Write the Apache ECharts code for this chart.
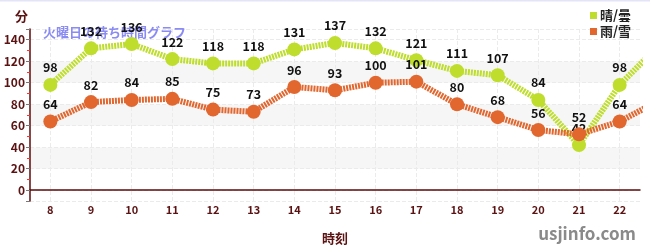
<!DOCTYPE html>
<html>
<head>
<meta charset="utf-8">
<script src="https://cdn.jsdelivr.net/npm/echarts@6/dist/echarts.min.js"></script>
<style>
html,body{margin:0;padding:0;background:#fff;}
#c{width:650px;height:250px;}
</style>
</head>
<body>
<div id="c"></div>
<script>
const hours = ['8','9','10','11','12','13','14','15','16','17','18','19','20','21','22','23'];
const sunny = [98,132,136,122,118,118,131,137,132,121,111,107,84,42,98,136];
const rainy = [64,82,84,85,75,73,96,93,100,101,80,68,56,52,64,84];
const seriesNames = ['晴/曇','雨/雪'];
const yTickLabels = [0,20,40,60,80,100,120,140];

const FONT = '"Noto Sans CJK JP", "Noto Sans", sans-serif';
const MAROON = '#5a1212';
const chart = echarts.init(document.getElementById('c'), null, {renderer:'canvas'});
chart.setOption({
  animation:false,
  textStyle:{fontFamily:FONT},
  title:{
    text:'火曜日の待ち時間グラフ', left:38, top:21, z:1,
    textStyle:{color:'#8b8cf3', fontSize:13, fontWeight:'bold', fontFamily:FONT}
  },
  legend:{
    data:seriesNames, orient:'vertical', right:14, top:4,
    itemWidth:7, itemHeight:7, itemGap:3, icon:'rect',
    textStyle:{fontSize:13, fontWeight:'bold', color:'#222', fontFamily:FONT, padding:[0,0,0,-2]}
  },
  graphic:[
    {type:'rect', shape:{x:0,y:0,width:650,height:1.5}, style:{fill:'#e4e4f8'}, z:100},
    {type:'text', right:14, bottom:8, style:{text:'usjinfo.com', fill:'#8a8a8a', font:'bold 17px '+FONT}, z:100}
  ],
  grid:{left:30, right:10, top:29, bottom:49, containLabel:false},
  xAxis:{
    type:'category', data:hours, max:14, boundaryGap:true,
    name:'時刻', nameLocation:'middle', nameGap:31,
    nameTextStyle:{color:MAROON, fontSize:13, fontWeight:'bold', fontFamily:FONT},
    axisLine:{lineStyle:{color:'#5c0a0a', width:1.5}},
    axisTick:{alignWithLabel:true, length:4, lineStyle:{color:'#777'}},
    axisLabel:{color:MAROON, fontSize:11, fontWeight:'bold', margin:3, fontFamily:FONT},
    splitLine:{show:true, alignWithLabel:true, lineStyle:{color:'#ebebeb', type:'dashed'}}
  },
  yAxis:{
    type:'value', min:-10, max:150, splitNumber:8,
    name:'分', nameLocation:'end', nameGap:6,
    nameTextStyle:{color:MAROON, fontSize:13, fontWeight:'bold', align:'right', padding:[0,2,0,0], fontFamily:FONT},
    axisLine:{show:true, lineStyle:{color:'#5c0a0a', width:1.5}},
    axisTick:{show:true, length:4, lineStyle:{color:'#777'}},
    minorTick:{show:true, splitNumber:2, length:3, lineStyle:{color:'#ff3030'}},
    axisLabel:{color:MAROON, fontSize:12, fontWeight:'bold', margin:5, showMinLabel:false, showMaxLabel:false, fontFamily:FONT,
      formatter:function(v){return yTickLabels.indexOf(v)>=0 ? String(v) : '';}},
    splitLine:{show:true, lineStyle:{color:'#ebebeb', type:'dashed'}},
    splitArea:{show:true, areaStyle:{color:['#ffffff','#ffffff','#f6f6f6','#ffffff','#f6f6f6','#ffffff','#f6f6f6','#ffffff','#ffffff']}}
  },
  series:[
    {
      name:seriesNames[0], type:'line', data:sunny, clip:false, z:2,
      symbol:'circle', symbolSize:14,
      itemStyle:{color:'#bedd2c'},
      lineStyle:{color:'#bedd2c', width:6, type:[2,1]},
      label:{show:true, position:'top', distance:4, color:'#111', fontSize:12.5, fontWeight:'bold', fontFamily:FONT}
    },
    {
      name:seriesNames[1], type:'line', data:rainy, clip:false, z:3,
      symbol:'circle', symbolSize:14,
      itemStyle:{color:'#e2672f'},
      lineStyle:{color:'#e2672f', width:6, type:[2,1]},
      label:{show:true, position:'top', distance:4, color:'#111', fontSize:12.5, fontWeight:'bold', fontFamily:FONT}
    }
  ]
});
</script>
</body>
</html>
